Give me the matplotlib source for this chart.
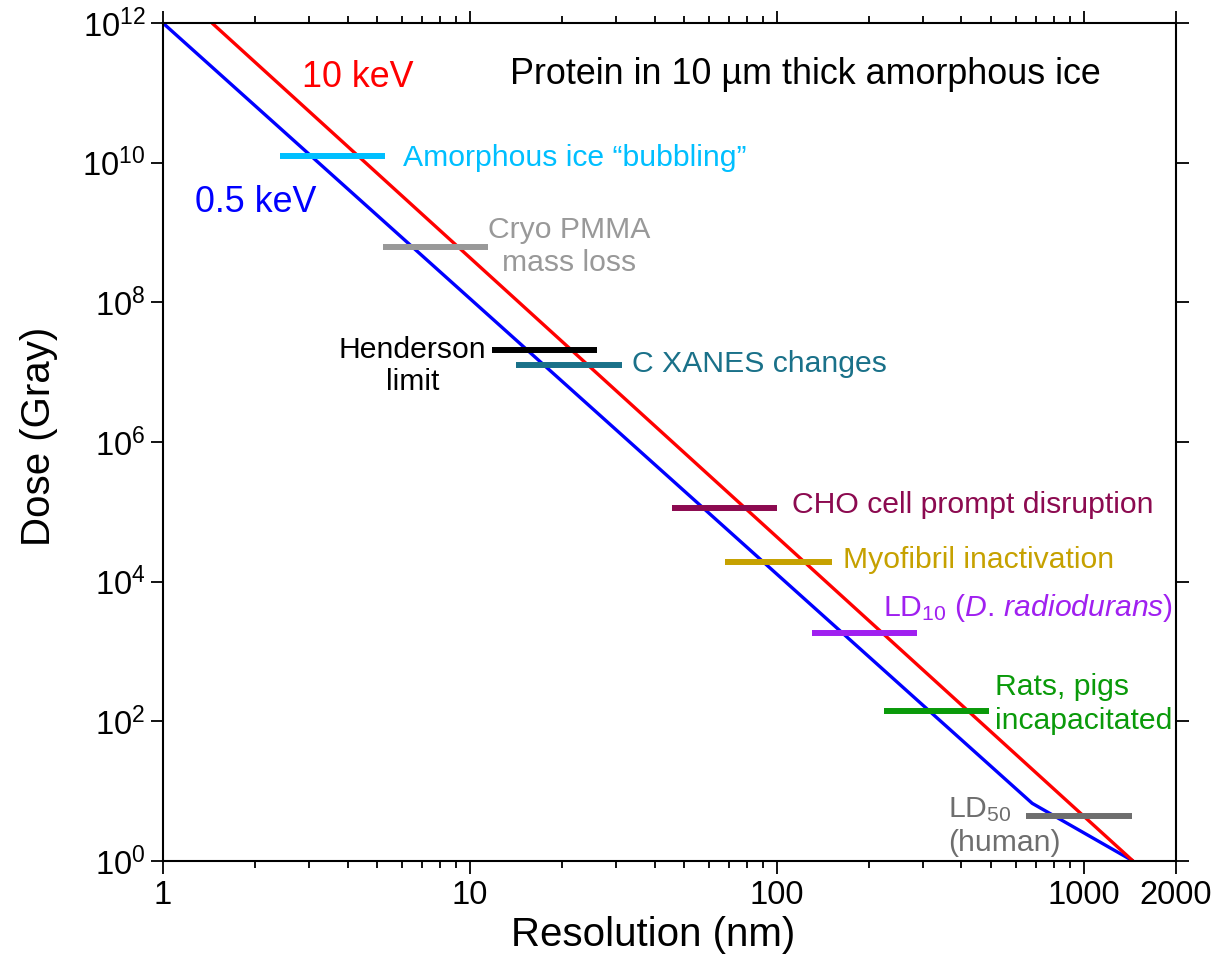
import matplotlib
matplotlib.use('Agg')
import matplotlib.pyplot as plt
from matplotlib.ticker import FixedLocator, NullLocator, LogLocator, NullFormatter
import numpy as np

plt.rcParams['font.family'] = ['Liberation Sans', 'DejaVu Sans']
plt.rcParams['mathtext.fontset'] = 'custom'
plt.rcParams['mathtext.rm'] = 'Liberation Sans'
plt.rcParams['mathtext.it'] = 'Liberation Sans:italic'
plt.rcParams['mathtext.default'] = 'regular'

# Dose vs resolution curves
res_05kev = [1, 680, 1450]
dose_05kev = [1e12, 6.7, 1]
res_10kev = [1.445, 1460]
dose_10kev = [1e12, 0.97]

# Horizontal bars: (res start, res end, dose)
bar_names = ['Amorphous ice bubbling', 'Cryo PMMA', 'Henderson', 'C XANES',
             'CHO', 'Myofibril', 'LD10', 'Rats pigs', 'LD50']
bar_x0 = [2.4, 5.2, 11.8, 14.1, 45.5, 68, 130, 223, 649]
bar_x1 = [5.3, 11.5, 25.9, 31.3, 100, 151, 286, 491, 1436]
bar_dose = [1.25e10, 6.3e8, 2.1e7, 1.28e7, 1.14e5, 1.9e4, 1.85e3, 141, 4.4]
bar_colors = ['#00bfff', '#999999', '#000000', '#1a7189', '#8c0a50',
              '#c6a100', '#a020f0', '#0a9a0a', '#6e6e6e']

x_ticks = [1, 10, 100, 1000, 2000]
x_ticklabels = ['1', '10', '100', '1000', '2000']
y_ticks = [1e0, 1e2, 1e4, 1e6, 1e8, 1e10, 1e12]
y_ticklabels = [r'$10^{%d}$' % int(np.log10(v)) for v in y_ticks]

fig = plt.figure(figsize=(12.25, 9.55), dpi=100)
ax = fig.add_axes([0.133, 0.0984, 0.827, 0.8775])

ax.plot(res_05kev, dose_05kev, color='#0000ff', lw=2.4, solid_capstyle='butt')
ax.plot(res_10kev, dose_10kev, color='#ff0000', lw=2.4, solid_capstyle='butt')

for x0, x1, d, c in zip(bar_x0, bar_x1, bar_dose, bar_colors):
    ax.plot([x0, x1], [d, d], color=c, lw=4.3, solid_capstyle='butt')

ax.set_xscale('log')
ax.set_yscale('log')
ax.set_xlim(1, 2000)
ax.set_ylim(1, 1e12)

ax.xaxis.set_major_locator(FixedLocator(x_ticks))
ax.set_xticklabels(x_ticklabels)
ax.xaxis.set_minor_locator(LogLocator(base=10, subs=np.arange(2, 10), numticks=20))
ax.xaxis.set_minor_formatter(NullFormatter())
ax.yaxis.set_major_locator(FixedLocator(y_ticks))
ax.set_yticklabels(y_ticklabels)
ax.yaxis.set_minor_locator(NullLocator())

ax.tick_params(which='both', direction='out', top=True, right=True, width=1.3,
               labelsize=23.5, labelright=False, labeltop=False)
ax.tick_params(which='major', length=9)
ax.tick_params(which='minor', length=5)
ax.tick_params(axis='x', pad=5)
for s in ax.spines.values():
    s.set_linewidth(1.5)

ax.set_xlabel('Resolution (nm)', fontsize=29)
ax.set_ylabel('Dose (Gray)', fontsize=29)
ax.xaxis.set_label_coords(0.484, -0.066)
ax.yaxis.set_label_coords(-0.104, 0.507)

fs = 21.7
fs_big = 25.8
ax.text(2.84, 10**11.22, '10 keV', color='#ff0000', fontsize=fs_big, ha='left', va='center')
ax.text(1.27, 10**9.43, '0.5 keV', color='#0000ff', fontsize=fs_big, ha='left', va='center')
ax.text(0.3425, 0.939, 'Protein in 10 µm thick amorphous ice', transform=ax.transAxes,
        fontsize=fs_big, ha='left', va='center')
ax.text(6.05, 10**10.07, 'Amorphous ice \u201cbubbling\u201d', color=bar_colors[0],
        fontsize=fs, ha='left', va='center')
ax.text(21.0, 10**8.80, 'Cryo PMMA\nmass loss', color=bar_colors[1], fontsize=fs,
        ha='center', va='center', multialignment='center', linespacing=1.25)
ax.text(6.5, 10**7.09, 'Henderson\nlimit', color=bar_colors[2], fontsize=fs,
        ha='center', va='center', multialignment='center', linespacing=1.2)
ax.text(33.8, 10**7.12, 'C XANES changes', color=bar_colors[3], fontsize=fs,
        ha='left', va='center')
ax.text(112, 10**5.10, 'CHO cell prompt disruption', color=bar_colors[4], fontsize=fs,
        ha='left', va='center')
ax.text(164, 10**4.31, 'Myofibril inactivation', color=bar_colors[5], fontsize=fs,
        ha='left', va='center')
ax.text(222, 10**3.62, r'LD$_{10}$ ($\mathit{D.}\,\mathit{radiodurans}$)', color=bar_colors[6],
        fontsize=fs, ha='left', va='center')
ax.text(514, 10**2.25, 'Rats, pigs\nincapacitated', color=bar_colors[7], fontsize=fs,
        ha='left', va='center', multialignment='left', linespacing=1.25)
ax.text(361, 10**0.50, 'LD$_{50}$\n(human)', color=bar_colors[8], fontsize=fs,
        ha='left', va='center', multialignment='left', linespacing=1.25)

fig.savefig('out.png', dpi=100, facecolor='white')
